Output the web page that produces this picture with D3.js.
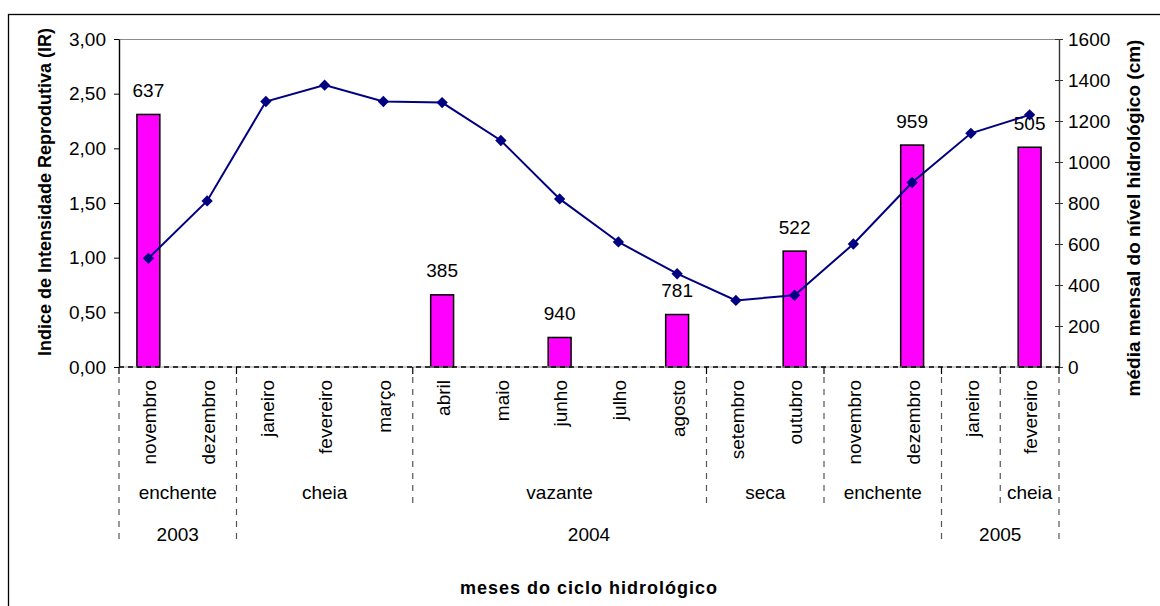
<!DOCTYPE html>
<html><head><meta charset="utf-8">
<script src="https://cdn.jsdelivr.net/npm/d3@7"></script>
<style>
body{margin:0;background:#fff}
svg{display:block;font-family:"Liberation Sans",Arial,sans-serif}
</style>
</head><body>
<svg id="chart" width="1160" height="606"></svg>
<script>
// Months of the hydrological cycle (Nov 2003 – Feb 2005)
const months = ["novembro","dezembro","janeiro","fevereiro","março","abril","maio","junho","julho","agosto","setembro","outubro","novembro","dezembro","janeiro","fevereiro"];
// Reproductive intensity index (IR) per month, null where no sample
const irValues = [2.31,null,null,null,null,0.66,null,0.27,null,0.48,null,1.06,null,2.03,null,2.01];
// Number of individuals sampled, printed above each bar
const sampleSizes = [637,null,null,null,null,385,null,940,null,781,null,522,null,959,null,505];
// Mean monthly river level (cm)
const waterLevel = [530,810,1295,1375,1295,1290,1105,820,610,455,325,350,600,900,1140,1230];
// Hydrological seasons and how many months each spans
const seasonLabels = ["enchente","cheia","vazante","seca","enchente","","cheia"];
const seasonSpans = [2,3,5,2,2,1,1];
// Years and how many months each spans
const yearLabels = ["2003","2004","2005"];
const yearSpans = [2,12,2];
// Axis ticks
const irTicks = [0,0.5,1,1.5,2,2.5,3];
const levelTicks = [0,200,400,600,800,1000,1200,1400,1600];

const svg = d3.select("#chart");
const plotL = 119, plotR = 1059, plotT = 39, plotB = 367;
const FS = 19;

// outer frame
svg.append("rect").attr("x",8.5).attr("y",14.5).attr("width",1300).attr("height",800)
  .attr("fill","none").attr("stroke","#000").attr("stroke-width",1.3);

const x = d3.scaleBand().domain(d3.range(months.length)).range([plotL,plotR]).paddingInner(0).paddingOuter(0);
const yL = d3.scaleLinear().domain([0,3]).range([plotB,plotT]);
const yR = d3.scaleLinear().domain([0,1600]).range([plotB,plotT]);
const bw = x.step();

// plot area top border
svg.append("line").attr("x1",plotL).attr("x2",plotR).attr("y1",plotT+0.5).attr("y2",plotT+0.5)
  .attr("stroke","#8c8c8c").attr("stroke-width",1.2);

// left axis
const gL = svg.append("g").attr("transform",`translate(${plotL},0)`)
  .call(d3.axisLeft(yL).tickValues(irTicks).tickSize(5).tickSizeOuter(0).tickPadding(8)
    .tickFormat(d=>d.toFixed(2).replace(".",",")));
gL.select(".domain").attr("stroke","#000").attr("stroke-width",1.4);
gL.selectAll(".tick line").attr("stroke","#000");
gL.selectAll("text").attr("font-size",FS).attr("fill","#000").attr("font-family","Liberation Sans, Arial, sans-serif");

// right axis
const gR = svg.append("g").attr("transform",`translate(${plotR},0)`)
  .call(d3.axisRight(yR).tickValues(levelTicks).tickSize(4).tickSizeOuter(0).tickPadding(5)
    .tickFormat(d3.format("d")));
gR.select(".domain").attr("stroke","#333").attr("stroke-width",1.4);
gR.selectAll(".tick line").attr("x1",-4).attr("stroke","#333");
gR.selectAll("text").attr("font-size",FS).attr("fill","#000").attr("font-family","Liberation Sans, Arial, sans-serif");

// bars
const barW = bw*0.39;
const barData = irValues.map((v,i)=>({i,v,n:sampleSizes[i]})).filter(d=>d.v!==null);
svg.append("g").selectAll("rect").data(barData).join("rect")
  .attr("x",d=>x(d.i)+bw/2-barW/2).attr("width",barW)
  .attr("y",d=>yL(d.v)).attr("height",d=>yL(0)-yL(d.v))
  .attr("fill","#ff00ff").attr("stroke","#000").attr("stroke-width",1.5);

svg.append("g").selectAll("text").data(barData).join("text")
  .attr("x",d=>x(d.i)+bw/2).attr("y",d=>yL(d.v)-24).attr("dy","0.35em")
  .attr("text-anchor","middle").attr("font-size",FS).attr("fill","#000")
  .text(d=>d.n);

// x axis baseline: grey border under black dashes
svg.append("line").attr("x1",plotL).attr("x2",plotR).attr("y1",plotB).attr("y2",plotB)
  .attr("stroke","#9a9a9a").attr("stroke-width",1.2);
svg.append("line").attr("x1",plotL).attr("x2",plotR).attr("y1",plotB).attr("y2",plotB)
  .attr("stroke","#000").attr("stroke-width",1.4).attr("stroke-dasharray","5,4");

// water level line
const line = d3.line().x((d,i)=>x(i)+bw/2).y(d=>yR(d));
svg.append("path").datum(waterLevel).attr("d",line)
  .attr("fill","none").attr("stroke","#000080").attr("stroke-width",2);
svg.append("g").selectAll("path").data(waterLevel).join("path")
  .attr("transform",(d,i)=>`translate(${x(i)+bw/2},${yR(d)}) rotate(45)`)
  .attr("d",d3.symbol(d3.symbolSquare,64)())
  .attr("fill","#000080");

// category boundaries
const seasonEdges = [0,...d3.cumsum(seasonSpans)];
const yearEdges = [0,...d3.cumsum(yearSpans)];
const edgeX = k => plotL + k*bw;
const seasonBottom = 507, yearBottom = 543;
const gB = svg.append("g");
seasonEdges.forEach(k=>{
  const isYear = yearEdges.includes(k);
  gB.append("line").attr("x1",edgeX(k)).attr("x2",edgeX(k)).attr("y1",plotB).attr("y2",plotB+7)
    .attr("stroke","#000").attr("stroke-width",1.2);
  gB.append("line").attr("x1",edgeX(k)).attr("x2",edgeX(k)).attr("y1",plotB+10)
    .attr("y2",isYear?yearBottom:seasonBottom)
    .attr("stroke","#555").attr("stroke-width",1.2).attr("stroke-dasharray","6,6");
});

// month labels
svg.append("g").selectAll("text").data(months).join("text")
  .attr("transform",(d,i)=>`translate(${x(i)+bw/2+1},380) rotate(-90)`)
  .attr("dy","0.35em").attr("text-anchor","end").attr("font-size",FS).attr("fill","#000")
  .text(d=>d);

// season labels
svg.append("g").selectAll("text").data(seasonLabels).join("text")
  .attr("x",(d,i)=>(edgeX(seasonEdges[i])+edgeX(seasonEdges[i+1]))/2)
  .attr("y",492).attr("dy","0.35em").attr("text-anchor","middle")
  .attr("font-size",FS).attr("fill","#000").text(d=>d);

// year labels
svg.append("g").selectAll("text").data(yearLabels).join("text")
  .attr("x",(d,i)=>(edgeX(yearEdges[i])+edgeX(yearEdges[i+1]))/2)
  .attr("y",534).attr("dy","0.35em").attr("text-anchor","middle")
  .attr("font-size",FS).attr("fill","#000").text(d=>d);

// axis titles
svg.append("text").attr("transform","translate(45,192) rotate(-90)").attr("dy","0.35em")
  .attr("text-anchor","middle").attr("font-size",18).attr("font-weight","bold")
  .text("Indice de Intensidade Reprodutiva (IR)");
svg.append("text").attr("transform","translate(1133,218) rotate(-90)").attr("dy","0.35em")
  .attr("text-anchor","middle").attr("font-size",19).attr("font-weight","bold")
  .text("média mensal do nível hidrológico (cm)");
svg.append("text").attr("x",589).attr("y",588).attr("dy","0.35em")
  .attr("text-anchor","middle").attr("font-size",18).attr("font-weight","bold")
  .attr("letter-spacing",1)
  .text("meses do ciclo hidrológico");
</script>
</body></html>
